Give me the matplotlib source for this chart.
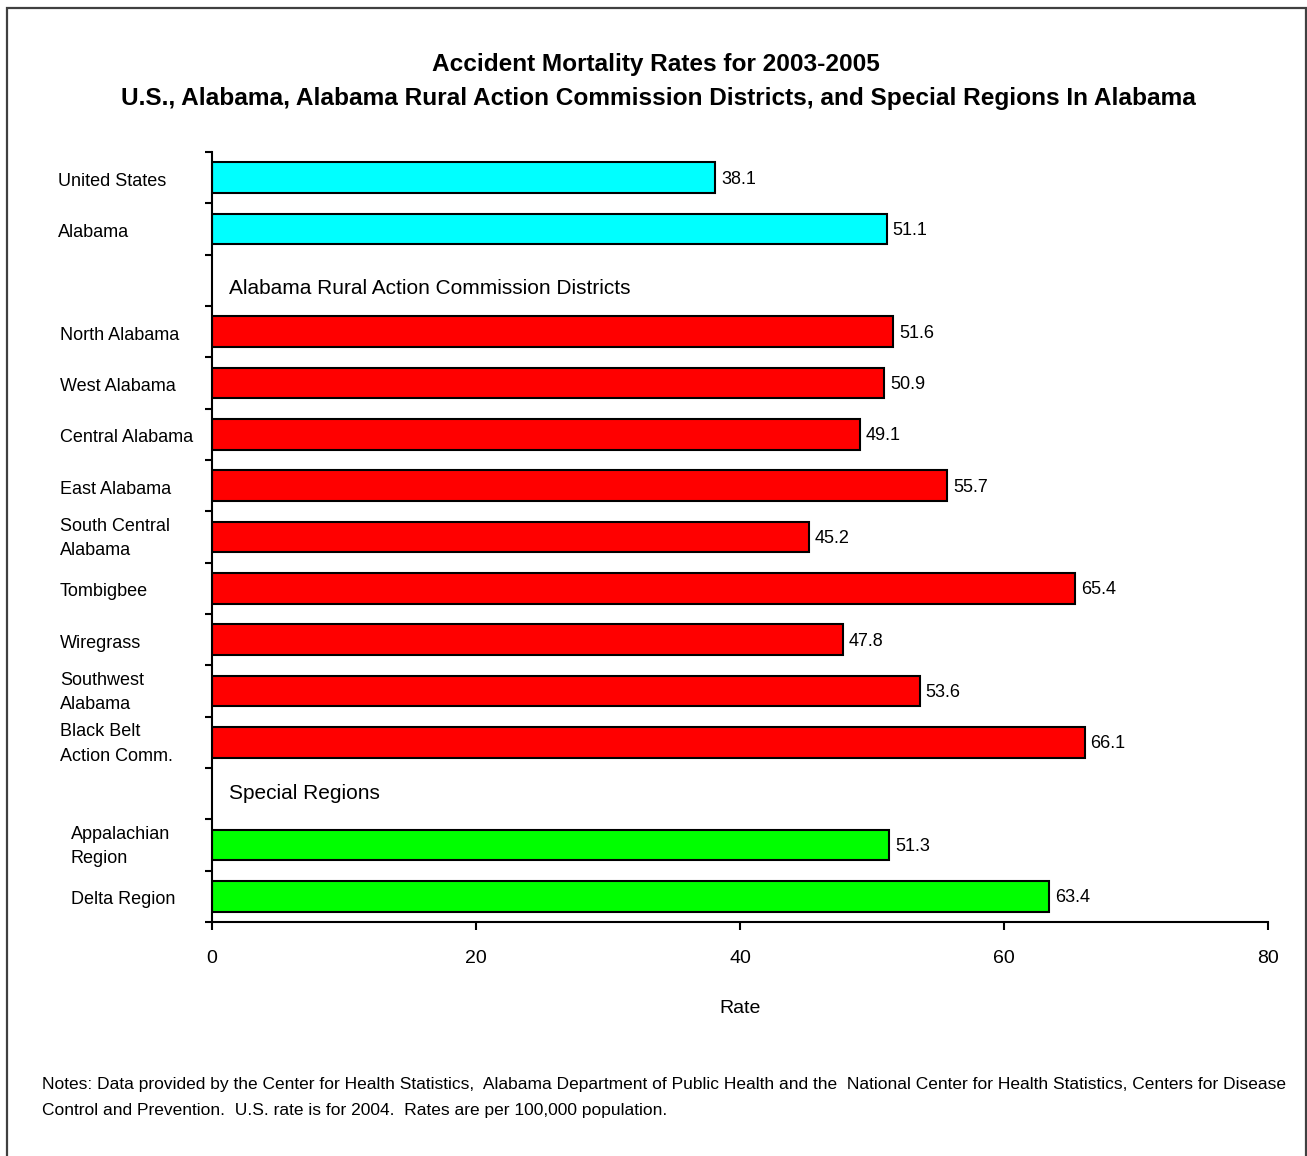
import matplotlib
matplotlib.use("Agg")
import matplotlib.pyplot as plt
from matplotlib.patches import Rectangle
from matplotlib.transforms import blended_transform_factory

FONT = ['Liberation Sans Narrow', 'Liberation Sans', 'DejaVu Sans']
plt.rcParams['font.family'] = FONT

# Rows from top to bottom; None marks a section-header row
labels = ["United States", "Alabama", None,
          "North Alabama", "West Alabama", "Central Alabama", "East Alabama",
          "South Central\nAlabama", "Tombigbee", "Wiregrass",
          "Southwest\nAlabama", "Black Belt\nAction Comm.", None,
          "Appalachian\nRegion", "Delta Region"]
values = [38.1, 51.1, None,
          51.6, 50.9, 49.1, 55.7, 45.2, 65.4, 47.8, 53.6, 66.1, None,
          51.3, 63.4]
groups = ["nat", "nat", None,
          "dist", "dist", "dist", "dist", "dist", "dist", "dist", "dist", "dist", None,
          "spec", "spec"]
headers = {2: "Alabama Rural Action Commission Districts", 12: "Special Regions"}
xticks = [0, 20, 40, 60, 80]

colors = {"nat": "#00FFFF", "dist": "#FF0000", "spec": "#00FF00"}
label_x = {"nat": 58, "dist": 60, "spec": 71}  # pixel x of label left edge

W, H = 1307, 1156
fig = plt.figure(figsize=(W / 100, H / 100), dpi=100)
ax_left, ax_right, ax_top, ax_bot = 212, 1268, 152, 922
ax = fig.add_axes([ax_left / W, 1 - ax_bot / H, (ax_right - ax_left) / W, (ax_bot - ax_top) / H])

n = len(labels)
for i, (lab, v, g) in enumerate(zip(labels, values, groups)):
    if v is None:
        continue
    ax.barh(i, v, height=0.6, color=colors[g], edgecolor="black", linewidth=1.5)
    ax.text(v + 0.45, i + 0.03, f"{v:.1f}", va="center", ha="left", fontsize=13)

trans = blended_transform_factory(fig.transFigure, ax.transData)
for i, (lab, g) in enumerate(zip(labels, groups)):
    if lab is None:
        continue
    dy = 0.03 if "\n" in lab else 0.07
    ax.text(label_x[g] / W, i + dy, lab, transform=trans, ha="left", va="center",
            fontsize=13, linespacing=1.6)

header_offset = {2: 0.15, 12: 0.0}
for i, txt in headers.items():
    ax.text(1.3, i + header_offset[i], txt, ha="left", va="center", fontsize=15)

ax.set_xlim(0, 80)
ax.set_ylim(n - 0.5, -0.5)
ax.set_yticks([k - 0.5 for k in range(n + 1)])
ax.set_yticklabels([])
ax.tick_params(axis="y", length=5, width=1.5, direction="out")
ax.set_xticks(xticks)
ax.set_xticklabels([str(t) for t in xticks], fontsize=14)
ax.tick_params(axis="x", length=6, width=1.5, direction="out", pad=14)
for s in ["top", "right"]:
    ax.spines[s].set_visible(False)
for s in ["left", "bottom"]:
    ax.spines[s].set_linewidth(1.5)
ax.set_xlabel("Rate", fontsize=14, labelpad=24)

fig.text(656 / W, 1 - 65 / H, "Accident Mortality Rates for 2003-2005",
         ha="center", va="center", fontsize=17.6, fontweight="bold",
         family=['Liberation Sans', 'DejaVu Sans'])
fig.text(658 / W, 1 - 99 / H,
         "U.S., Alabama, Alabama Rural Action Commission Districts, and Special Regions In Alabama",
         ha="center", va="center", fontsize=17.6, fontweight="bold",
         family=['Liberation Sans', 'DejaVu Sans'])

fig.text(42 / W, 1 - 1084 / H,
         "Notes: Data provided by the Center for Health Statistics,  Alabama Department of Public Health and the  National Center for Health Statistics, Centers for Disease",
         ha="left", va="center", fontsize=12.5)
fig.text(42 / W, 1 - 1110 / H,
         "Control and Prevention.  U.S. rate is for 2004.  Rates are per 100,000 population.",
         ha="left", va="center", fontsize=12.5)

fig.patches.append(Rectangle((7 / W, -0.01), (W - 8) / W, 1 - 8 / H + 0.01,
                             transform=fig.transFigure, fill=False,
                             edgecolor="#404040", linewidth=1.6))

fig.savefig("out.png", dpi=100)
